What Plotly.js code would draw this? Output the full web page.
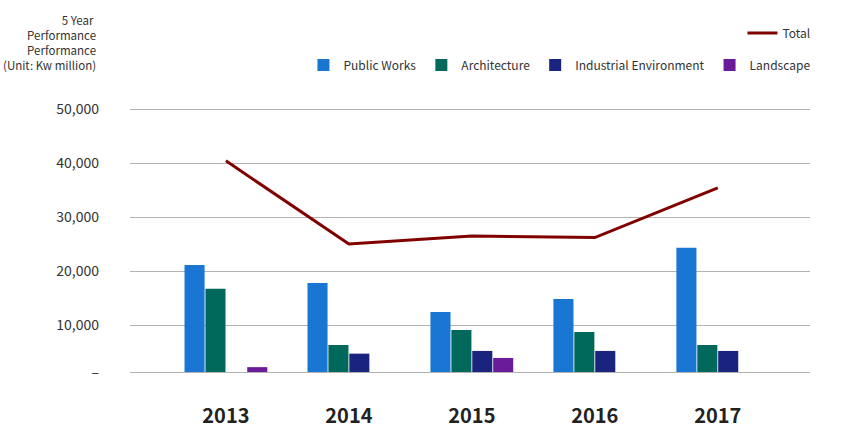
<!DOCTYPE html>
<html>
<head>
<meta charset="utf-8">
<script src="https://cdn.plot.ly/plotly-3.0.1.min.js"></script>
<style>html,body{margin:0;padding:0;background:#fff;}#chart{width:850px;height:440px;}</style>
</head>
<body>
<div id="chart"></div>
<script>
const years = ['2013', '2014', '2015', '2016', '2017'];
const publicWorks = [21100, 17800, 12400, 14800, 24300];
const architecture = [16700, 6300, 9100, 8700, 6300];
const industrialEnv = [null, 4700, 5200, 5200, 5200];
const landscape = [2200, null, 3900, null, null];
const total = [40400, 25000, 26500, 26200, 35400];
const yTickVals = [1300, 10000, 20000, 30000, 40000, 50000];
const yTickText = ['–', '10,000', '20,000', '30,000', '40,000', '50,000'];
const titleText = '5 Year\u00a0<br>Performance<br>Performance<br>(Unit: Kw million)';

const FONT = '"Noto Sans CJK KR", "Noto Sans", sans-serif';

function barTrace(name, vals, color) {
  return {type: 'bar', name: name, x: years, y: vals, marker: {color: color}, legend: 'legend', hoverinfo: 'x+y+name'};
}

const data = [
  barTrace('Public Works', publicWorks, '#1976D2'),
  barTrace('Architecture', architecture, '#00695C'),
  barTrace('Industrial Environment', industrialEnv, '#1A237E'),
  barTrace('Landscape', landscape, '#6A1B9A'),
  {type: 'scatter', mode: 'lines', name: 'Total', x: years, y: total,
   line: {color: '#800000', width: 3}, legend: 'legend2'}
];

const plotBottom = 372, plotH = 272;

const layout = {
  width: 850, height: 440,
  margin: {l: 130, r: 40, t: 100, b: 68},
  paper_bgcolor: '#fff', plot_bgcolor: '#fff',
  font: {family: FONT, color: '#333', size: 12},
  barmode: 'group', bargap: 0.32, bargroupgap: 0.04,
  xaxis: {type: 'category', range: [-0.78, 4.75], showgrid: false, zeroline: false,
          showline: true, linecolor: '#b3b3b3', linewidth: 1,
          ticks: '', ticklabelstandoff: 26, tickfont: {family: FONT, size: 20, color: '#222', weight: 'bold'}},
  yaxis: {range: [1300, 51670], tickvals: yTickVals, ticktext: yTickText, showgrid: true,
          gridcolor: '#b3b3b3', gridwidth: 1, zeroline: false, showline: false, ticks: '',
          ticklabelstandoff: 30, tickfont: {family: FONT, size: 14, color: '#333'}},
  showlegend: true,
  legend: {orientation: 'h', x: 1.008, xanchor: 'right', y: 1.129, yanchor: 'middle',
           font: {family: FONT, size: 12, color: '#333'}, bgcolor: 'rgba(0,0,0,0)', traceorder: 'normal'},
  legend2: {orientation: 'h', x: 1.008, xanchor: 'right', y: 1.246, yanchor: 'middle',
           font: {family: FONT, size: 12, color: '#333'}, bgcolor: 'rgba(0,0,0,0)'},
  annotations: [{text: titleText, xref: 'paper', yref: 'paper', x: -0.047,
                 y: (plotBottom - 42) / plotH, xanchor: 'right', yanchor: 'middle', align: 'right',
                 showarrow: false, font: {family: FONT, size: 11.5, color: '#333'}}]
};

Plotly.newPlot('chart', data, layout, {displayModeBar: false, staticPlot: true});
</script>
</body>
</html>
